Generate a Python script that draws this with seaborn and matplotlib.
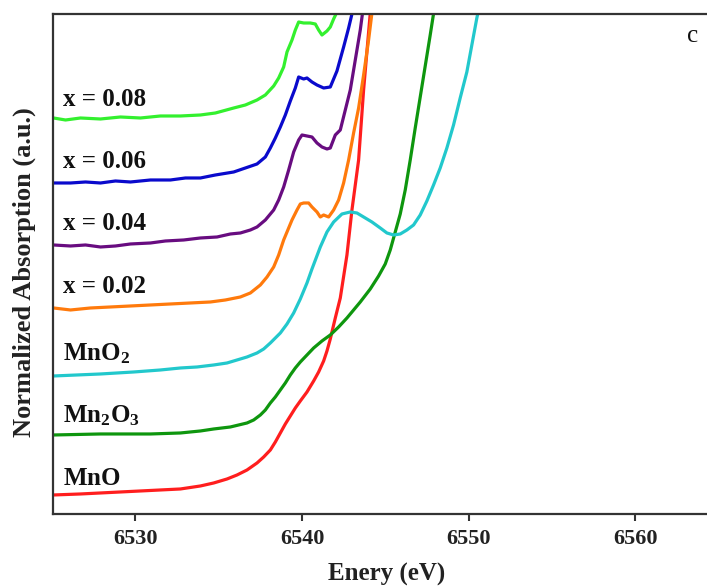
import numpy as np
import pandas as pd
import matplotlib
matplotlib.use("Agg")
import matplotlib.pyplot as plt
import seaborn as sns

# Mn K-edge XANES spectra (energy in eV, normalized absorption with vertical offsets)
E_mno = [6525.08, 6526.7, 6529.1, 6531.5, 6532.7, 6533.9, 6534.7, 6535.5, 6536.1, 6536.7,
         6537.3, 6537.7, 6538.1, 6538.4, 6538.7, 6539.0, 6539.3, 6539.6, 6539.9, 6540.3,
         6540.7, 6541.0, 6541.3, 6541.5, 6541.7, 6542.0, 6542.3, 6542.7, 6543.0, 6543.4,
         6543.7, 6544.1, 6544.3]
A_mno = [0.19, 0.20, 0.22, 0.24, 0.25, 0.28, 0.31, 0.35, 0.39, 0.44,
         0.51, 0.57, 0.64, 0.72, 0.81, 0.90, 0.98, 1.06, 1.13, 1.22,
         1.33, 1.42, 1.53, 1.63, 1.75, 1.96, 2.16, 2.59, 3.04, 3.54,
         4.24, 5.01, 5.54]

E_mn2o3 = [6525.08, 6527.9, 6530.9, 6532.7, 6533.9, 6534.7, 6535.7, 6536.7, 6537.1, 6537.5,
           6537.8, 6538.1, 6538.4, 6538.7, 6539.0, 6539.3, 6539.6, 6539.9, 6540.3, 6540.7,
           6541.2, 6541.7, 6542.2, 6542.7, 6543.1, 6543.5, 6544.1, 6544.6, 6545.0, 6545.3,
           6545.6, 6545.9, 6546.2, 6546.5, 6546.8, 6547.1, 6547.4, 6547.7, 6548.0]
A_mn2o3 = [0.79, 0.80, 0.80, 0.81, 0.83, 0.85, 0.87, 0.91, 0.94, 0.99,
           1.04, 1.11, 1.17, 1.24, 1.31, 1.39, 1.46, 1.52, 1.59, 1.66,
           1.73, 1.79, 1.87, 1.96, 2.04, 2.12, 2.25, 2.38, 2.50, 2.64,
           2.82, 3.00, 3.24, 3.54, 3.86, 4.17, 4.48, 4.79, 5.11]

E_mno2 = [6525.08, 6527.9, 6529.9, 6531.5, 6532.7, 6533.7, 6534.7, 6535.5, 6536.1, 6536.7,
          6537.3, 6537.7, 6538.1, 6538.4, 6538.7, 6539.1, 6539.5, 6539.9, 6540.3, 6540.6,
          6541.1, 6541.5, 6541.9, 6542.4, 6542.9, 6543.3, 6543.7, 6544.2, 6544.7, 6545.1,
          6545.5, 6545.9, 6546.3, 6546.7, 6547.1, 6547.5, 6547.9, 6548.3, 6548.7, 6549.1,
          6549.5, 6549.9, 6550.2, 6550.5, 6550.8]
A_mno2 = [1.38, 1.40, 1.42, 1.44, 1.46, 1.47, 1.49, 1.51, 1.54, 1.57,
          1.61, 1.65, 1.71, 1.76, 1.81, 1.90, 2.01, 2.15, 2.31, 2.45,
          2.67, 2.82, 2.92, 3.00, 3.02, 3.01, 2.97, 2.92, 2.86, 2.81,
          2.79, 2.80, 2.84, 2.89, 2.99, 3.13, 3.29, 3.46, 3.66, 3.89,
          4.16, 4.42, 4.69, 4.96, 5.19]

E_x002 = [6525.08, 6526.1, 6527.3, 6528.5, 6529.7, 6530.9, 6532.1, 6533.3, 6534.5, 6535.4,
          6536.3, 6536.9, 6537.5, 6537.9, 6538.3, 6538.6, 6538.9, 6539.2, 6539.4, 6539.7,
          6539.9, 6540.1, 6540.4, 6540.6, 6540.9, 6541.1, 6541.3, 6541.6, 6541.9, 6542.2,
          6542.5, 6542.8, 6543.1, 6543.4, 6543.7, 6544.0, 6544.2, 6544.4]
A_x002 = [2.06, 2.04, 2.06, 2.07, 2.08, 2.09, 2.10, 2.11, 2.12, 2.14,
          2.17, 2.21, 2.29, 2.37, 2.47, 2.59, 2.74, 2.86, 2.94, 3.04,
          3.10, 3.11, 3.11, 3.07, 3.02, 2.97, 2.99, 2.97, 3.04, 3.14,
          3.31, 3.54, 3.81, 4.06, 4.39, 4.74, 5.01, 5.24]

E_x004 = [6525.08, 6526.1, 6527.0, 6527.9, 6528.8, 6529.7, 6530.9, 6531.8, 6532.9, 6533.9,
          6534.9, 6535.7, 6536.3, 6536.9, 6537.3, 6537.8, 6538.3, 6538.6, 6538.9, 6539.2,
          6539.5, 6539.8, 6540.0, 6540.3, 6540.6, 6540.9, 6541.2, 6541.5, 6541.7, 6542.0,
          6542.3, 6542.6, 6542.9, 6543.2, 6543.5, 6543.7]
A_x004 = [2.69, 2.68, 2.69, 2.67, 2.68, 2.70, 2.71, 2.73, 2.74, 2.76,
          2.77, 2.80, 2.81, 2.84, 2.87, 2.94, 3.04, 3.14, 3.27, 3.44,
          3.62, 3.74, 3.79, 3.78, 3.77, 3.71, 3.67, 3.65, 3.66, 3.79,
          3.84, 4.04, 4.24, 4.54, 4.84, 5.09]

E_x006 = [6525.08, 6526.1, 6527.0, 6527.9, 6528.8, 6529.7, 6530.9, 6532.1, 6533.0, 6533.9,
          6534.8, 6535.9, 6536.6, 6537.3, 6537.8, 6538.1, 6538.4, 6538.7, 6539.0, 6539.3,
          6539.6, 6539.8, 6540.1, 6540.3, 6540.6, 6540.9, 6541.3, 6541.7, 6542.1, 6542.5,
          6542.8, 6543.0, 6543.2]
A_x006 = [3.31, 3.31, 3.32, 3.31, 3.33, 3.32, 3.34, 3.34, 3.36, 3.36,
          3.39, 3.42, 3.46, 3.50, 3.57, 3.66, 3.76, 3.87, 3.99, 4.13,
          4.26, 4.37, 4.35, 4.36, 4.32, 4.29, 4.26, 4.27, 4.43, 4.67,
          4.86, 5.00, 5.12]

E_x008 = [6525.08, 6525.8, 6526.7, 6527.9, 6529.1, 6530.3, 6531.5, 6532.7, 6533.9, 6534.8,
          6535.9, 6536.6, 6537.3, 6537.8, 6538.3, 6538.6, 6538.9, 6539.1, 6539.4, 6539.6,
          6539.8, 6540.1, 6540.5, 6540.8, 6541.0, 6541.2, 6541.5, 6541.7, 6541.9, 6542.1,
          6542.3]
A_x008 = [3.96, 3.94, 3.96, 3.95, 3.97, 3.96, 3.98, 3.98, 3.99, 4.01,
          4.06, 4.09, 4.14, 4.19, 4.28, 4.36, 4.47, 4.62, 4.74, 4.84,
          4.92, 4.91, 4.91, 4.90, 4.84, 4.79, 4.83, 4.87, 4.95, 5.02,
          5.14]

samples = ["MnO", "Mn2O3", "MnO2", "x = 0.02", "x = 0.04", "x = 0.06", "x = 0.08"]
energies = [E_mno, E_mn2o3, E_mno2, E_x002, E_x004, E_x006, E_x008]
absorptions = [A_mno, A_mn2o3, A_mno2, A_x002, A_x004, A_x006, A_x008]
colors = ["#FF1E1E", "#0E960E", "#22C8CC", "#FF7A0C", "#680C80", "#0A0ACC", "#33F02E"]

# label text and baseline height for each curve
labels = [r"$\mathregular{MnO}$", r"$\mathregular{Mn_2O_3}$", r"$\mathregular{MnO_2}$",
          "x = 0.02", "x = 0.04", "x = 0.06", "x = 0.08"]
label_y = [0.29, 0.92, 1.54, 2.21, 2.84, 3.46, 4.075]

df = pd.concat(
    [pd.DataFrame({"Energy": e, "Absorption": a, "Sample": s})
     for e, a, s in zip(energies, absorptions, samples)],
    ignore_index=True,
)

sns.set_theme(style="white")
plt.rcParams["font.family"] = ["Liberation Serif", "DejaVu Serif"]
plt.rcParams["mathtext.fontset"] = "custom"
plt.rcParams["mathtext.rm"] = "Liberation Serif:bold"
plt.rcParams["mathtext.bf"] = "Liberation Serif:bold"
plt.rcParams["mathtext.it"] = "Liberation Serif:bold"

fig = plt.figure(figsize=(7.07, 5.88), dpi=100)
ax = fig.add_axes([0.075, 0.1259, 0.941, 0.8503])

sns.lineplot(data=df, x="Energy", y="Absorption", hue="Sample", palette=colors,
             hue_order=samples, sort=False, estimator=None, linewidth=2.3,
             legend=False, ax=ax)
for line in ax.get_lines():
    line.set_solid_joinstyle("round")
    line.set_solid_capstyle("round")

for lab, yb in zip(labels, label_y):
    ax.text(6525.65, yb, lab, fontsize=18, fontweight="bold", ha="left",
            va="baseline", color="#111111")

ax.text(6563.1, 4.72, "c", fontsize=18, ha="left", va="baseline", color="#111111")

ax.set_xlim(6525.05, 6565)
ax.set_ylim(0, 5.0)
ax.set_xticks([6530, 6540, 6550, 6560])
ax.set_yticks([])
ax.tick_params(axis="x", direction="out", length=5, width=1.5, color="#333333",
               pad=6, labelsize=16, bottom=True)
for lbl in ax.get_xticklabels():
    lbl.set_fontweight("bold")
    lbl.set_color("#222222")

for side in ["left", "bottom", "top"]:
    ax.spines[side].set_linewidth(1.6)
    ax.spines[side].set_color("#333333")
ax.spines["right"].set_visible(False)

ax.set_xlabel("Enery (eV)", fontsize=18, fontweight="bold", color="#222222")
ax.xaxis.set_label_coords(0.501, -0.098)
ax.set_ylabel("Normalized Absorption (a.u.)", fontsize=19, fontweight="bold",
              color="#222222")
ax.yaxis.set_label_coords(-0.026, 0.484)

fig.savefig("out.png", dpi=100)
